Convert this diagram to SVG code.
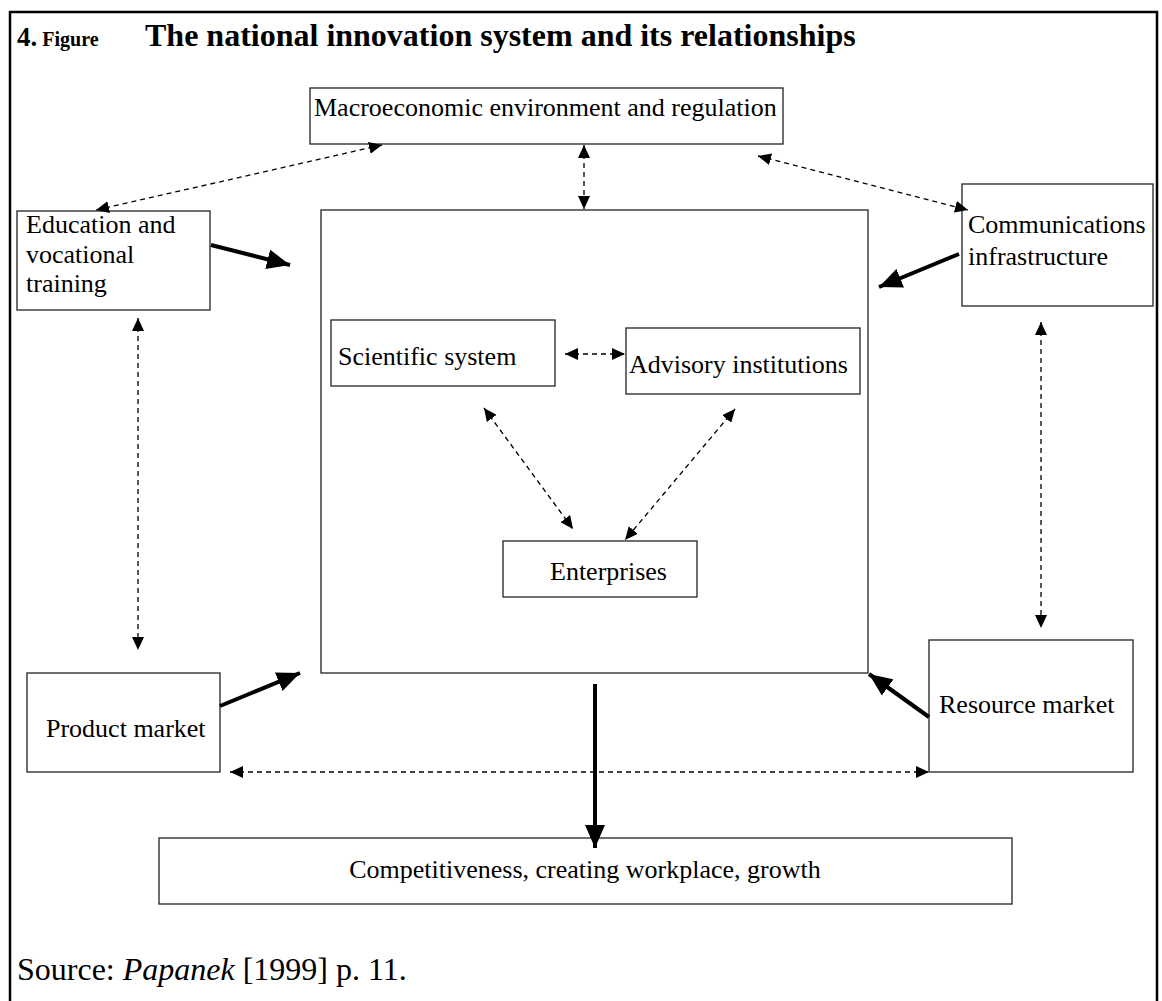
<svg xmlns="http://www.w3.org/2000/svg" width="1162" height="1001" viewBox="0 0 1162 1001">
  <style>
    .box { fill: #fff; stroke: #222; stroke-width: 1.3; }
    .lbl { font-family: "Liberation Serif", "Times New Roman", serif; font-size: 26px; fill: #000; }
    .dash { fill: none; stroke: #000; stroke-width: 1.3; stroke-dasharray: 5 4; }
    .thick { fill: none; stroke: #000; stroke-width: 4; }
    .frame { fill: none; stroke: #000; stroke-width: 2.5; }
  </style>
  <defs>
    <marker id="sm" markerUnits="userSpaceOnUse" markerWidth="14" markerHeight="12" refX="13" refY="6" orient="auto-start-reverse">
      <path d="M0,0 L13,6 L0,12 Z" fill="#000"/>
    </marker>
    <marker id="big" markerUnits="userSpaceOnUse" markerWidth="24" markerHeight="20" refX="23" refY="10" orient="auto">
      <path d="M0,0 L23,10 L0,20 Z" fill="#000"/>
    </marker>
  </defs>

  <rect width="1162" height="1001" fill="#fff"/>
  <!-- page frame, open at the bottom -->
  <path class="frame" d="M10,1001 L10,12 L1157,12 L1157,1001"/>

  <!-- heading -->
  <g id="title" font-family="'Liberation Serif', 'Times New Roman', serif" font-weight="bold">
    <text x="17" y="46" font-size="27">4.<tspan font-size="20"> Figure</tspan></text>
    <text x="145" y="46" font-size="32">The national innovation system and its relationships</text>
  </g>

  <g id="macro">
    <rect class="box" x="310" y="88" width="473" height="56"/>
    <text class="lbl" x="314" y="116">Macroeconomic environment and regulation</text>
  </g>

  <g id="system">
    <rect class="box" x="321" y="210" width="547" height="463"/>
  </g>

  <g id="education">
    <rect class="box" x="17" y="211" width="193" height="99"/>
    <text class="lbl" x="26" y="233">Education and</text>
    <text class="lbl" x="26" y="263">vocational</text>
    <text class="lbl" x="26" y="292">training</text>
  </g>

  <g id="communications">
    <rect class="box" x="962" y="184" width="191" height="122"/>
    <text class="lbl" x="968" y="233">Communications</text>
    <text class="lbl" x="968" y="265">infrastructure</text>
  </g>

  <g id="scientific">
    <rect class="box" x="331" y="320" width="224" height="66"/>
    <text class="lbl" x="338" y="365">Scientific system</text>
  </g>

  <g id="advisory">
    <rect class="box" x="626" y="328" width="234" height="66"/>
    <text class="lbl" x="629" y="373">Advisory institutions</text>
  </g>

  <g id="enterprises">
    <rect class="box" x="503" y="541" width="194" height="56"/>
    <text class="lbl" x="550" y="580">Enterprises</text>
  </g>

  <g id="product">
    <rect class="box" x="27" y="673" width="193" height="99"/>
    <text class="lbl" x="46" y="737">Product market</text>
  </g>

  <g id="resource">
    <rect class="box" x="929" y="640" width="204" height="132"/>
    <text class="lbl" x="939" y="713">Resource market</text>
  </g>

  <g id="outcome">
    <rect class="box" x="159" y="838" width="853" height="66"/>
    <text class="lbl" x="585" y="878" text-anchor="middle">Competitiveness, creating workplace, growth</text>
  </g>

  <g id="source">
    <text x="17" y="980" font-family="'Liberation Serif', 'Times New Roman', serif" font-size="32">Source: <tspan font-style="italic">Papanek</tspan> [1999] p. 11.</text>
  </g>

  <g id="connectors">
    <!-- two-way dashed links -->
    <line class="dash" x1="382" y1="145" x2="96" y2="210" marker-start="url(#sm)" marker-end="url(#sm)"/>
    <line class="dash" x1="584" y1="145" x2="584" y2="209" marker-start="url(#sm)" marker-end="url(#sm)"/>
    <line class="dash" x1="758" y1="156" x2="968" y2="210" marker-start="url(#sm)" marker-end="url(#sm)"/>
    <line class="dash" x1="565" y1="354" x2="625" y2="354" marker-start="url(#sm)" marker-end="url(#sm)"/>
    <line class="dash" x1="484" y1="408" x2="573" y2="529" marker-start="url(#sm)" marker-end="url(#sm)"/>
    <line class="dash" x1="735" y1="409" x2="625" y2="540" marker-start="url(#sm)" marker-end="url(#sm)"/>
    <line class="dash" x1="138" y1="318" x2="138" y2="650" marker-start="url(#sm)" marker-end="url(#sm)"/>
    <line class="dash" x1="1041" y1="322" x2="1041" y2="628" marker-start="url(#sm)" marker-end="url(#sm)"/>
    <line class="dash" x1="230" y1="772" x2="929" y2="772" marker-start="url(#sm)" marker-end="url(#sm)"/>
    <!-- one-way heavy arrows -->
    <line class="thick" x1="211" y1="245" x2="290" y2="265" marker-end="url(#big)"/>
    <line class="thick" x1="959" y1="254" x2="879" y2="287" marker-end="url(#big)"/>
    <line class="thick" x1="220" y1="706" x2="300" y2="673" marker-end="url(#big)"/>
    <line class="thick" x1="929" y1="717" x2="869" y2="674" marker-end="url(#big)"/>
    <line class="thick" x1="595" y1="684" x2="595" y2="848" marker-end="url(#big)"/>
  </g>
</svg>
